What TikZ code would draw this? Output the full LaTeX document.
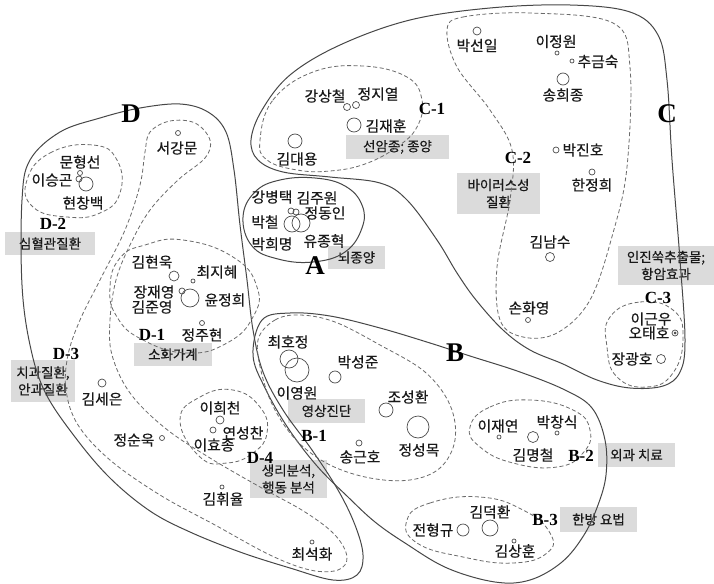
\documentclass[tikz,border=0pt]{standalone}
\usepackage{fontspec}
\setmainfont{Liberation Serif}
\newfontfamily\kr[FakeBold=0.35]{Noto Sans CJK KR}
\begin{document}
\begin{tikzpicture}[x=1pt,y=-1pt,
  nm/.style={font=\kr\fontsize{14.8}{16}\selectfont, text=black!90, inner sep=0pt},
  grp/.style={font=\bfseries\fontsize{17}{18}\selectfont, inner sep=0pt},
  big/.style={font=\bfseries\fontsize{27}{28}\selectfont, inner sep=0pt},
  gbox/.style={fill=gray!28, draw=none, font=\kr\fontsize{13.5}{17}\selectfont, align=center, inner sep=0pt, text=black!90},
  outl/.style={draw=black!72, line width=1pt},
  dsh/.style={draw=black!58, line width=0.8pt, dash pattern=on 4pt off 2.5pt},
  pt/.style={draw=black!70, line width=0.7pt, circle, inner sep=0pt}]
\useasboundingbox (0,0) rectangle (714,583);
\fill[white] (0,0) rectangle (714,583);

% gray label boxes
\node[gbox, minimum width=103pt, minimum height=24pt] (bxC1) at (397.5,147) {선암종; 종양};
\node[gbox, minimum width=57pt, minimum height=23pt] (bxA) at (356.5,257.5) {뇌종양};
\node[gbox, minimum width=83pt, minimum height=41pt] (bxC2) at (498.5,193.5) {바이러스성\\질환};
\node[gbox, minimum width=96pt, minimum height=39pt] (bxC3) at (666,265.5) {인진쑥추출물;\\항암효과};
\node[gbox, minimum width=90pt, minimum height=23pt] (bxD2) at (50,243.5) {심혈관질환};
\node[gbox, minimum width=78pt, minimum height=23pt] (bxD1) at (173,354.5) {소화가계};
\node[gbox, minimum width=64pt, minimum height=42pt] (bxD3) at (43,381) {치과질환,\\안과질환};
\node[gbox, minimum width=77pt, minimum height=38pt] (bxD4) at (288.5,479) {생리분석,\\행동 분석};
\node[gbox, minimum width=77pt, minimum height=24pt] (bxB1) at (326.5,411) {영상진단};
\node[gbox, minimum width=77pt, minimum height=24pt] (bxB2) at (636.5,455) {외과 치료};
\node[gbox, minimum width=77pt, minimum height=25pt] (bxB3) at (598.5,519.5) {한방 요법};

% solid outlines
\draw[outl] plot[smooth cycle, tension=0.6] coordinates {
 (251,140) (262,110) (290,75) (340,45) (410,20) (490,8) (570,5) (630,12) (658,35) (667,80)
 (672,160) (680,260) (685,340) (680,372) (663,386) (630,388) (597,380) (563,364) (530,350)
 (503,330) (476,300) (457,273) (437,240) (407,200) (380,183) (330,177) (283,172) (258,160)};
\draw[outl] plot[smooth cycle, tension=0.7] coordinates {
 (243,217) (255,192) (280,180) (315,178) (345,186) (362,205) (362,228) (345,252) (313,262) (278,259) (252,246)};
\draw[outl] plot[smooth cycle, tension=0.6] coordinates {
 (262,320) (290,313) (330,316) (380,328) (430,343) (470,356) (520,372) (565,390) (592,408)
 (605,440) (606,475) (598,505) (584,535) (562,562) (530,580) (495,582) (447,568) (405,543)
 (375,522) (348,497) (317,466) (288,428) (265,388) (253,355)};
\draw[outl] plot[smooth cycle, tension=0.6] coordinates {
 (22,200) (30,160) (60,132) (100,118) (140,108) (180,104) (208,112) (226,132) (234,170)
 (240,225) (247,280) (253,330) (263,372) (283,410) (312,450) (338,490) (355,525) (363,555)
 (357,575) (333,580) (290,568) (240,552) (190,532) (150,511) (110,478) (75,437) (45,392)
 (30,345) (22,285)};

% dashed groups
\draw[dsh] plot[smooth cycle, tension=0.7] coordinates {
 (260,140) (273,100) (313,72) (363,66) (407,77) (422,100) (417,127) (397,147) (365,164) (330,171) (297,170) (267,160)};
\draw[dsh] plot[smooth cycle, tension=0.6] coordinates {
 (447,30) (463,17) (530,13) (613,23) (630,67) (627,167) (613,233) (590,300) (557,333) (523,337)
 (500,320) (497,267) (510,200) (512,150) (490,110) (457,67)};
\draw[dsh] plot[smooth cycle, tension=0.8] coordinates {
 (610,317) (640,302) (673,310) (683,337) (673,373) (647,387) (617,377) (607,347)};
\draw[dsh] plot[smooth cycle, tension=0.8] coordinates {
 (27,180) (50,153) (93,145) (117,160) (120,193) (100,213) (67,217) (33,207)};
\draw[dsh] plot[smooth cycle, tension=0.8] coordinates {
 (120,258) (145,245) (183,240) (233,257) (257,287) (253,317) (227,343) (187,353) (143,340) (117,317) (110,287)};
\draw[dsh] plot[smooth cycle, tension=0.6] coordinates {
 (150,132) (170,121) (195,123) (210,140) (205,158) (178,180) (150,210) (130,245) (116,280)
 (110,320) (112,355) (130,393) (165,428) (210,458) (260,487) (305,512) (335,535) (347,557)
 (338,570) (310,570) (270,555) (215,525) (160,495) (110,460) (78,425) (66,390) (68,355)
 (80,320) (100,280) (125,230) (140,185) (145,152)};
\draw[dsh] plot[smooth cycle, tension=0.8] coordinates {
 (180,420) (200,397) (233,390) (260,407) (267,433) (253,453) (227,463) (200,457)};
\draw[dsh] plot[smooth cycle, tension=0.6] coordinates {
 (258,340) (275,320) (300,315) (335,322) (380,345) (425,372) (450,405) (455,440) (440,468)
 (410,480) (370,478) (330,465) (298,442) (275,410) (262,375)};
\draw[dsh] plot[smooth cycle, tension=0.8] coordinates {
 (470,427) (490,407) (530,400) (573,410) (590,430) (583,453) (557,467) (513,463) (480,447)};
\draw[dsh] plot[smooth cycle, tension=0.8] coordinates {
 (407,520) (430,503) (480,497) (523,510) (550,533) (547,553) (513,563) (463,557) (417,543)};

% group letters
\node[big] (gA) at (315,266) {A};
\node[big] (gB) at (455,353) {B};
\node[big] (gC) at (667,114) {C};
\node[big] (gD) at (131,114) {D};
\node[grp] (gC1) at (432,109) {C-1};
\node[grp] (gC2) at (518,158) {C-2};
\node[grp] (gC3) at (658,298) {C-3};
\node[grp] (gD1) at (152,335) {D-1};
\node[grp] (gD2) at (53,224) {D-2};
\node[grp] (gD3) at (66,354) {D-3};
\node[grp] (gD4) at (260,458) {D-4};
\node[grp] (gB1) at (314,436) {B-1};
\node[grp] (gB2) at (581,456) {B-2};
\node[grp] (gB3) at (545,520) {B-3};

% circles (researchers)
\node[pt, minimum size=7pt] (c1) at (347,107) {};
\node[pt, minimum size=7pt] (c2) at (356,105) {};
\node[pt, minimum size=14pt] (c3) at (354,125) {};
\node[pt, minimum size=14pt] (c4) at (295,141) {};
\node[pt, minimum size=8pt] (c5) at (477,31) {};
\node[pt, minimum size=4pt] (c6) at (557,53) {};
\node[pt, minimum size=4pt] (c7) at (572,61) {};
\node[pt, minimum size=12pt] (c8) at (563,79) {};
\node[pt, minimum size=6pt] (c9) at (556,150) {};
\node[pt, minimum size=6pt] (c10) at (592,172) {};
\node[pt, minimum size=9pt] (c11) at (550,257) {};
\node[pt, minimum size=5pt] (c12) at (528,320) {};
\node[pt, minimum size=6pt] (c13) at (675,333) {};
\node[pt, minimum size=2pt, fill=black!60] (c13b) at (675,333) {};
\node[pt, minimum size=9pt] (c14) at (661,359) {};
\node[pt, minimum size=6pt] (c15) at (291,211) {};
\node[pt, minimum size=6pt] (c16) at (296,212) {};
\node[pt, minimum size=16pt] (c17) at (292,224) {};
\node[pt, minimum size=18pt] (c18) at (301,223) {};
\node[pt, minimum size=5pt] (c19) at (80,173) {};
\node[pt, minimum size=6pt] (c20) at (79,179) {};
\node[pt, minimum size=14pt] (c21) at (86,184) {};
\node[pt, minimum size=5pt] (c22) at (178,133) {};
\node[pt, minimum size=10pt] (c23) at (174,276) {};
\node[pt, minimum size=4pt] (c24) at (193,281) {};
\node[pt, minimum size=6pt] (c25) at (182,291) {};
\node[pt, minimum size=18pt] (c26) at (190,298) {};
\node[pt, minimum size=5pt] (c27) at (202,323) {};
\node[pt, minimum size=8pt] (c28) at (102,383) {};
\node[pt, minimum size=5pt] (c29) at (162,438) {};
\node[pt, minimum size=8pt] (c30) at (220,420) {};
\node[pt, minimum size=6pt] (c31) at (213,430) {};
\node[pt, minimum size=4pt] (c32) at (222,487) {};
\node[pt, minimum size=4pt] (c33) at (312,542) {};
\node[pt, minimum size=18pt] (c34) at (289,359) {};
\node[pt, minimum size=24pt] (c35) at (297,370) {};
\node[pt, minimum size=12pt] (c36) at (335,377) {};
\node[pt, minimum size=14pt] (c37) at (386,410) {};
\node[pt, minimum size=22pt] (c38) at (418,427) {};
\node[pt, minimum size=6pt] (c39) at (359,443) {};
\node[pt, minimum size=4pt] (c40) at (499,437) {};
\node[pt, minimum size=4pt] (c41) at (557,433) {};
\node[pt, minimum size=11pt] (c42) at (533,437) {};
\node[pt, minimum size=16pt] (c43) at (490,528) {};
\node[pt, minimum size=4pt] (c44) at (514,541) {};
\node[pt, minimum size=12pt] (c45) at (463,530) {};

% names
\node[nm] (n1) at (325,96) {강상철};
\node[nm] (n2) at (378,94) {정지열};
\node[nm] (n3) at (386,126) {김재훈};
\node[nm] (n4) at (297,159) {김대용};
\node[nm] (n5) at (477,45.5) {박선일};
\node[nm] (n6) at (556,41.5) {이정원};
\node[nm] (n7) at (598,61.5) {추금숙};
\node[nm] (n8) at (563,95) {송희종};
\node[nm] (n9) at (583,150) {박진호};
\node[nm] (n10) at (592,185) {한정희};
\node[nm] (n11) at (550,242) {김남수};
\node[nm] (n12) at (529,308) {손화영};
\node[nm] (n13) at (651,319) {이근우};
\node[nm] (n14) at (649,333) {오태호};
\node[nm] (n15) at (632,359) {장광호};
\node[nm] (n16) at (272,197) {강병택};
\node[nm] (n17) at (317,198) {김주원};
\node[nm] (n18) at (325,213) {정동인};
\node[nm] (n19) at (265,222) {박철};
\node[nm] (n20) at (272,244) {박희명};
\node[nm] (n21) at (324,241) {유종혁};
\node[nm] (n22) at (80,162) {문형선};
\node[nm] (n23) at (52,180) {이승곤};
\node[nm] (n24) at (83,203) {현창백};
\node[nm] (n25) at (177,148) {서강문};
\node[nm] (n26) at (152,262) {김현욱};
\node[nm] (n27) at (217,272) {최지혜};
\node[nm] (n28) at (154,292) {장재영};
\node[nm] (n29) at (225,300) {윤정희};
\node[nm] (n30) at (152,307) {김준영};
\node[nm] (n31) at (202,335) {정주현};
\node[nm] (n32) at (102,399) {김세은};
\node[nm] (n33) at (134,440) {정순욱};
\node[nm] (n34) at (220,408) {이희천};
\node[nm] (n35) at (243,433) {연성찬};
\node[nm] (n36) at (214,445) {이효종};
\node[nm] (n37) at (223,499) {김휘율};
\node[nm] (n38) at (312,554) {최석화};
\node[nm] (n39) at (288,342) {최호정};
\node[nm] (n40) at (358,362) {박성준};
\node[nm] (n41) at (297,393) {이영원};
\node[nm] (n42) at (408,397) {조성환};
\node[nm] (n43) at (419,450) {정성목};
\node[nm] (n44) at (360,457) {송근호};
\node[nm] (n45) at (498,426) {이재연};
\node[nm] (n46) at (557,422) {박창식};
\node[nm] (n47) at (533,455) {김명철};
\node[nm] (n48) at (490,512) {김덕환};
\node[nm] (n49) at (515,551) {김상훈};
\node[nm] (n50) at (433,530) {전형규};
\end{tikzpicture}
\end{document}
